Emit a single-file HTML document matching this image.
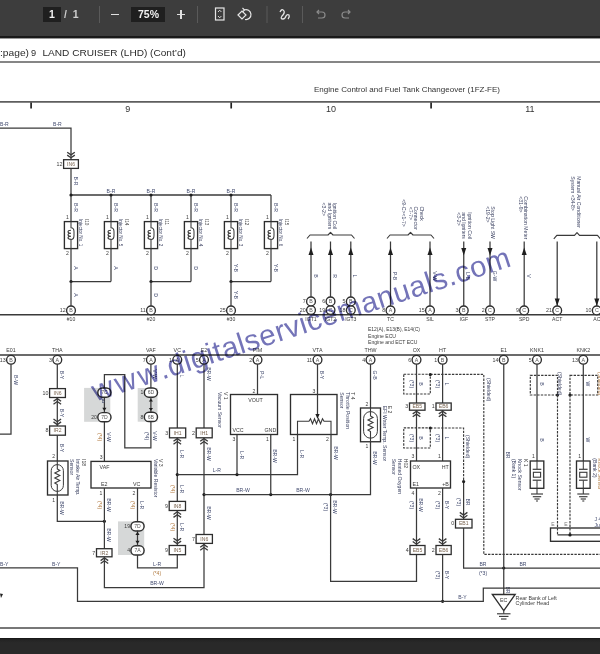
<!DOCTYPE html>
<html><head><meta charset="utf-8"><style>
html,body{margin:0;padding:0;width:600px;height:654px;overflow:hidden;background:#fff;font-family:"Liberation Sans", sans-serif;}
#tb{position:absolute;left:0;top:0;width:600px;height:36px;background:#3d3d3d;}
#tbb{position:absolute;left:0;top:36px;width:600px;height:3px;background:linear-gradient(#181818,#1a1a1a 55%,#8a8a8a 80%,#e0e0e0);}
#bot{position:absolute;left:0;top:638.3px;width:600px;height:16px;background:linear-gradient(#151515,#242424 2px,#292929 5px);}
#pg{position:absolute;left:0;top:0;}
.tbt{position:absolute;color:#f0f0f0;font-size:10.5px;line-height:15px;font-weight:bold;}
</style></head><body>
<svg id="pg" width="600" height="654" viewBox="0 0 600 654" font-family='"Liberation Sans", sans-serif'>
<rect x="0" y="0" width="600" height="654" fill="#fff"/>
<text x="0" y="56" font-size="9.2" fill="#2a2a2a" textLength="29" lengthAdjust="spacingAndGlyphs">:page)</text>
<text x="31" y="56" font-size="9.2" fill="#2a2a2a">9</text>
<text x="42.5" y="56" font-size="9.2" fill="#2a2a2a" textLength="143.5" lengthAdjust="spacingAndGlyphs">LAND CRUISER (LHD) (Cont&#8217;d)</text>
<line x1="0" y1="62" x2="600" y2="62" stroke="#5e5e5e" stroke-width="1.7"/>
<line x1="0" y1="101.9" x2="600" y2="101.9" stroke="#5e5e5e" stroke-width="1.7"/>
<line x1="31.1" y1="102.5" x2="31.1" y2="108.5" stroke="#222" stroke-width="1.7"/>
<line x1="231.2" y1="102.5" x2="231.2" y2="108.5" stroke="#222" stroke-width="1.7"/>
<line x1="431.1" y1="102.5" x2="431.1" y2="108.5" stroke="#222" stroke-width="1.7"/>
<text x="127.8" y="111.6" font-size="9.0" text-anchor="middle" fill="#333">9</text>
<text x="331.1" y="111.6" font-size="9.0" text-anchor="middle" fill="#333">10</text>
<text x="529.8" y="111.6" font-size="9.0" text-anchor="middle" fill="#333">11</text>
<text x="314" y="91.8" font-size="8.0" text-anchor="start" fill="#333" textLength="186" lengthAdjust="spacingAndGlyphs">Engine Control and Fuel Tank Changeover (1FZ-FE)</text>
<line x1="0" y1="628" x2="600" y2="628" stroke="#777" stroke-width="2"/>
<polyline points="0,128 71,128 71,160" fill="none" stroke="#3a3a3a" stroke-width="1.25"/>
<text x="0" y="126" font-size="5.1" text-anchor="start" fill="#414a6e">B-R</text>
<text x="53" y="126" font-size="5.1" text-anchor="start" fill="#414a6e">B-R</text>
<polyline points="67.2,155.10000000000002 71,157.8 74.8,155.10000000000002" fill="none" stroke="#3a3a3a" stroke-width="1.3"/>
<polyline points="67.2,152.20000000000002 71,154.9 74.8,152.20000000000002" fill="none" stroke="#3a3a3a" stroke-width="1.3"/>
<rect x="63.6" y="159.7" width="14.8" height="8.7" fill="#fff" stroke="#2e2e2e" stroke-width="1.3"/>
<text x="71.0" y="165.85000000000002" font-size="5.1" text-anchor="middle" fill="#7a6450">IN6</text>
<text x="62.4" y="165.85000000000002" font-size="5.3" text-anchor="end" fill="#3a3a3a">12</text>
<line x1="71" y1="168.4" x2="71" y2="195" stroke="#3a3a3a" stroke-width="1.25"/>
<text x="73.5" y="181" font-size="5.1" text-anchor="middle" fill="#414a6e" transform="rotate(90 73.5 181)">B-R</text>
<line x1="71" y1="195" x2="271" y2="195" stroke="#3a3a3a" stroke-width="1.5"/>
<line x1="71" y1="195" x2="71" y2="221.5" stroke="#3a3a3a" stroke-width="1.25"/>
<rect x="64.4" y="221.6" width="13.2" height="27.0" fill="#fff" stroke="#2e2e2e" stroke-width="1.35"/>
<path d="M71,221.6 V227.8 q3,0 3,4 v3.6 q0,4 -3,4 V248.6 M71,230.2 q-3,0 -3,1.5 t3,1.5 q-3,0 -3,1.5 t3,1.5 q-3,0 -3,1.5 t3,1.5" fill="none" stroke="#3a3a3a" stroke-width="1.05"/>
<text x="67.4" y="218.6" font-size="5.1" text-anchor="middle" fill="#3a3a3a">1</text>
<text x="67.4" y="255" font-size="5.1" text-anchor="middle" fill="#3a3a3a">2</text>
<text x="73.5" y="207.5" font-size="5.1" text-anchor="middle" fill="#414a6e" transform="rotate(90 73.5 207.5)">B-R</text>
<text x="85.1" y="219" font-size="4.6" text-anchor="start" fill="#3a3a3a" transform="rotate(90 85.1 219)">I10</text>
<text x="79.1" y="219" font-size="4.6" text-anchor="start" fill="#3c4262" transform="rotate(90 79.1 219)">Injector No. 1</text>
<line x1="71" y1="248.6" x2="71" y2="281.5" stroke="#3a3a3a" stroke-width="1.25"/>
<text x="73.5" y="268" font-size="5.1" text-anchor="middle" fill="#414a6e" transform="rotate(90 73.5 268)">A</text>
<line x1="111" y1="195" x2="111" y2="221.5" stroke="#3a3a3a" stroke-width="1.25"/>
<rect x="104.4" y="221.6" width="13.2" height="27.0" fill="#fff" stroke="#2e2e2e" stroke-width="1.35"/>
<path d="M111,221.6 V227.8 q3,0 3,4 v3.6 q0,4 -3,4 V248.6 M111,230.2 q-3,0 -3,1.5 t3,1.5 q-3,0 -3,1.5 t3,1.5 q-3,0 -3,1.5 t3,1.5" fill="none" stroke="#3a3a3a" stroke-width="1.05"/>
<text x="107.4" y="218.6" font-size="5.1" text-anchor="middle" fill="#3a3a3a">1</text>
<text x="107.4" y="255" font-size="5.1" text-anchor="middle" fill="#3a3a3a">2</text>
<text x="113.5" y="207.5" font-size="5.1" text-anchor="middle" fill="#414a6e" transform="rotate(90 113.5 207.5)">B-R</text>
<text x="125.1" y="219" font-size="4.6" text-anchor="start" fill="#3a3a3a" transform="rotate(90 125.1 219)">I14</text>
<text x="119.1" y="219" font-size="4.6" text-anchor="start" fill="#3c4262" transform="rotate(90 119.1 219)">Injector No. 5</text>
<line x1="111" y1="248.6" x2="111" y2="281.5" stroke="#3a3a3a" stroke-width="1.25"/>
<text x="113.5" y="268" font-size="5.1" text-anchor="middle" fill="#414a6e" transform="rotate(90 113.5 268)">A</text>
<line x1="151" y1="195" x2="151" y2="221.5" stroke="#3a3a3a" stroke-width="1.25"/>
<rect x="144.4" y="221.6" width="13.2" height="27.0" fill="#fff" stroke="#2e2e2e" stroke-width="1.35"/>
<path d="M151,221.6 V227.8 q3,0 3,4 v3.6 q0,4 -3,4 V248.6 M151,230.2 q-3,0 -3,1.5 t3,1.5 q-3,0 -3,1.5 t3,1.5 q-3,0 -3,1.5 t3,1.5" fill="none" stroke="#3a3a3a" stroke-width="1.05"/>
<text x="147.4" y="218.6" font-size="5.1" text-anchor="middle" fill="#3a3a3a">1</text>
<text x="147.4" y="255" font-size="5.1" text-anchor="middle" fill="#3a3a3a">2</text>
<text x="153.5" y="207.5" font-size="5.1" text-anchor="middle" fill="#414a6e" transform="rotate(90 153.5 207.5)">B-R</text>
<text x="165.1" y="219" font-size="4.6" text-anchor="start" fill="#3a3a3a" transform="rotate(90 165.1 219)">I11</text>
<text x="159.1" y="219" font-size="4.6" text-anchor="start" fill="#3c4262" transform="rotate(90 159.1 219)">Injector No. 2</text>
<line x1="151" y1="248.6" x2="151" y2="281.5" stroke="#3a3a3a" stroke-width="1.25"/>
<text x="153.5" y="268" font-size="5.1" text-anchor="middle" fill="#414a6e" transform="rotate(90 153.5 268)">D</text>
<line x1="191" y1="195" x2="191" y2="221.5" stroke="#3a3a3a" stroke-width="1.25"/>
<rect x="184.4" y="221.6" width="13.2" height="27.0" fill="#fff" stroke="#2e2e2e" stroke-width="1.35"/>
<path d="M191,221.6 V227.8 q3,0 3,4 v3.6 q0,4 -3,4 V248.6 M191,230.2 q-3,0 -3,1.5 t3,1.5 q-3,0 -3,1.5 t3,1.5 q-3,0 -3,1.5 t3,1.5" fill="none" stroke="#3a3a3a" stroke-width="1.05"/>
<text x="187.4" y="218.6" font-size="5.1" text-anchor="middle" fill="#3a3a3a">1</text>
<text x="187.4" y="255" font-size="5.1" text-anchor="middle" fill="#3a3a3a">2</text>
<text x="193.5" y="207.5" font-size="5.1" text-anchor="middle" fill="#414a6e" transform="rotate(90 193.5 207.5)">B-R</text>
<text x="205.1" y="219" font-size="4.6" text-anchor="start" fill="#3a3a3a" transform="rotate(90 205.1 219)">I13</text>
<text x="199.1" y="219" font-size="4.6" text-anchor="start" fill="#3c4262" transform="rotate(90 199.1 219)">Injector No. 4</text>
<line x1="191" y1="248.6" x2="191" y2="281.5" stroke="#3a3a3a" stroke-width="1.25"/>
<text x="193.5" y="268" font-size="5.1" text-anchor="middle" fill="#414a6e" transform="rotate(90 193.5 268)">D</text>
<line x1="231" y1="195" x2="231" y2="221.5" stroke="#3a3a3a" stroke-width="1.25"/>
<rect x="224.4" y="221.6" width="13.2" height="27.0" fill="#fff" stroke="#2e2e2e" stroke-width="1.35"/>
<path d="M231,221.6 V227.8 q3,0 3,4 v3.6 q0,4 -3,4 V248.6 M231,230.2 q-3,0 -3,1.5 t3,1.5 q-3,0 -3,1.5 t3,1.5 q-3,0 -3,1.5 t3,1.5" fill="none" stroke="#3a3a3a" stroke-width="1.05"/>
<text x="227.4" y="218.6" font-size="5.1" text-anchor="middle" fill="#3a3a3a">1</text>
<text x="227.4" y="255" font-size="5.1" text-anchor="middle" fill="#3a3a3a">2</text>
<text x="233.5" y="207.5" font-size="5.1" text-anchor="middle" fill="#414a6e" transform="rotate(90 233.5 207.5)">B-R</text>
<text x="245.1" y="219" font-size="4.6" text-anchor="start" fill="#3a3a3a" transform="rotate(90 245.1 219)">I12</text>
<text x="239.1" y="219" font-size="4.6" text-anchor="start" fill="#3c4262" transform="rotate(90 239.1 219)">Injector No. 3</text>
<line x1="231" y1="248.6" x2="231" y2="281.5" stroke="#3a3a3a" stroke-width="1.25"/>
<text x="233.5" y="268" font-size="5.1" text-anchor="middle" fill="#414a6e" transform="rotate(90 233.5 268)">Y-B</text>
<line x1="271" y1="195" x2="271" y2="221.5" stroke="#3a3a3a" stroke-width="1.25"/>
<rect x="264.4" y="221.6" width="13.2" height="27.0" fill="#fff" stroke="#2e2e2e" stroke-width="1.35"/>
<path d="M271,221.6 V227.8 q3,0 3,4 v3.6 q0,4 -3,4 V248.6 M271,230.2 q-3,0 -3,1.5 t3,1.5 q-3,0 -3,1.5 t3,1.5 q-3,0 -3,1.5 t3,1.5" fill="none" stroke="#3a3a3a" stroke-width="1.05"/>
<text x="267.4" y="218.6" font-size="5.1" text-anchor="middle" fill="#3a3a3a">1</text>
<text x="267.4" y="255" font-size="5.1" text-anchor="middle" fill="#3a3a3a">2</text>
<text x="273.5" y="207.5" font-size="5.1" text-anchor="middle" fill="#414a6e" transform="rotate(90 273.5 207.5)">B-R</text>
<text x="285.1" y="219" font-size="4.6" text-anchor="start" fill="#3a3a3a" transform="rotate(90 285.1 219)">I15</text>
<text x="279.1" y="219" font-size="4.6" text-anchor="start" fill="#3c4262" transform="rotate(90 279.1 219)">Injector No. 6</text>
<line x1="271" y1="248.6" x2="271" y2="281.5" stroke="#3a3a3a" stroke-width="1.25"/>
<text x="273.5" y="268" font-size="5.1" text-anchor="middle" fill="#414a6e" transform="rotate(90 273.5 268)">Y-B</text>
<circle cx="71" cy="195" r="1.6" fill="#1e1e1e"/>
<circle cx="111" cy="195" r="1.6" fill="#1e1e1e"/>
<circle cx="151" cy="195" r="1.6" fill="#1e1e1e"/>
<circle cx="191" cy="195" r="1.6" fill="#1e1e1e"/>
<circle cx="231" cy="195" r="1.6" fill="#1e1e1e"/>
<text x="111" y="192.6" font-size="5.1" text-anchor="middle" fill="#414a6e">B-R</text>
<text x="151" y="192.6" font-size="5.1" text-anchor="middle" fill="#414a6e">B-R</text>
<text x="191" y="192.6" font-size="5.1" text-anchor="middle" fill="#414a6e">B-R</text>
<text x="231" y="192.6" font-size="5.1" text-anchor="middle" fill="#414a6e">B-R</text>
<line x1="71" y1="281.5" x2="111" y2="281.5" stroke="#3a3a3a" stroke-width="1.25"/>
<circle cx="71" cy="281.5" r="1.6" fill="#1e1e1e"/>
<line x1="151" y1="281.5" x2="191" y2="281.5" stroke="#3a3a3a" stroke-width="1.25"/>
<circle cx="151" cy="281.5" r="1.6" fill="#1e1e1e"/>
<line x1="231" y1="281.5" x2="271" y2="281.5" stroke="#3a3a3a" stroke-width="1.25"/>
<circle cx="231" cy="281.5" r="1.6" fill="#1e1e1e"/>
<line x1="71" y1="281.5" x2="71" y2="306" stroke="#3a3a3a" stroke-width="1.25"/>
<text x="73.5" y="295" font-size="5.1" text-anchor="middle" fill="#414a6e" transform="rotate(90 73.5 295)">A</text>
<line x1="151" y1="281.5" x2="151" y2="306" stroke="#3a3a3a" stroke-width="1.25"/>
<text x="153.5" y="295" font-size="5.1" text-anchor="middle" fill="#414a6e" transform="rotate(90 153.5 295)">D</text>
<line x1="231" y1="281.5" x2="231" y2="306" stroke="#3a3a3a" stroke-width="1.25"/>
<text x="233.5" y="295" font-size="5.1" text-anchor="middle" fill="#414a6e" transform="rotate(90 233.5 295)">Y-B</text>
<line x1="0" y1="314.8" x2="600" y2="314.8" stroke="#3a3a3a" stroke-width="1.5"/>
<circle cx="71" cy="310.4" r="4.4" fill="#fff" stroke="#2e2e2e" stroke-width="1.35"/>
<text x="71" y="312.29999999999995" font-size="5.3" text-anchor="middle" fill="#555">B</text>
<text x="65.69999999999999" y="312.29999999999995" font-size="5.3" text-anchor="end" fill="#3a3a3a">12</text>
<text x="71" y="320.6" font-size="5.1" text-anchor="middle" fill="#3a3a3a">#10</text>
<circle cx="151" cy="310.4" r="4.4" fill="#fff" stroke="#2e2e2e" stroke-width="1.35"/>
<text x="151" y="312.29999999999995" font-size="5.3" text-anchor="middle" fill="#555">B</text>
<text x="145.7" y="312.29999999999995" font-size="5.3" text-anchor="end" fill="#3a3a3a">11</text>
<text x="151" y="320.6" font-size="5.1" text-anchor="middle" fill="#3a3a3a">#20</text>
<circle cx="231" cy="310.4" r="4.4" fill="#fff" stroke="#2e2e2e" stroke-width="1.35"/>
<text x="231" y="312.29999999999995" font-size="5.3" text-anchor="middle" fill="#555">B</text>
<text x="225.7" y="312.29999999999995" font-size="5.3" text-anchor="end" fill="#3a3a3a">25</text>
<text x="231" y="320.6" font-size="5.1" text-anchor="middle" fill="#3a3a3a">#30</text>
<path d="M307,238.5 L310,235 L328.0,235 L330.5,232.3 L333.0,235 L351.5,235 L354.5,238.5" fill="none" stroke="#3a3a3a" stroke-width="1.15" stroke-linejoin="round"/>
<text x="333.4" y="202.6" font-size="5.1" text-anchor="start" fill="#3c4262" transform="rotate(90 333.4 202.6)">Ignition Coil</text>
<text x="327.8" y="202.6" font-size="5.1" text-anchor="start" fill="#3c4262" transform="rotate(90 327.8 202.6)">and Igniters</text>
<text x="322.3" y="202.6" font-size="5.1" text-anchor="start" fill="#3c4262" transform="rotate(90 322.3 202.6)">&lt;3-2&gt;</text>
<line x1="311" y1="241.5" x2="311" y2="297" stroke="#3a3a3a" stroke-width="1.25"/>
<polygon points="311,247.5 308.5,255.0 313.5,255.0" fill="#1e1e1e"/>
<text x="313.5" y="276" font-size="5.1" text-anchor="middle" fill="#414a6e" transform="rotate(90 313.5 276)">B</text>
<circle cx="311" cy="310.1" r="4.4" fill="#fff" stroke="#2e2e2e" stroke-width="1.35"/>
<text x="311" y="312.0" font-size="5.3" text-anchor="middle" fill="#555">B</text>
<text x="305.70000000000005" y="312.0" font-size="5.3" text-anchor="end" fill="#3a3a3a">20</text>
<circle cx="311" cy="301.4" r="4.4" fill="#fff" stroke="#2e2e2e" stroke-width="1.35"/>
<text x="311" y="303.29999999999995" font-size="5.3" text-anchor="middle" fill="#555">B</text>
<text x="305.70000000000005" y="303.29999999999995" font-size="5.3" text-anchor="end" fill="#3a3a3a">7</text>
<text x="311" y="320.6" font-size="5.1" text-anchor="middle" fill="#3a3a3a">IGT1</text>
<line x1="330.5" y1="241.5" x2="330.5" y2="297" stroke="#3a3a3a" stroke-width="1.25"/>
<polygon points="330.5,247.5 328.0,255.0 333.0,255.0" fill="#1e1e1e"/>
<text x="333.0" y="276" font-size="5.1" text-anchor="middle" fill="#414a6e" transform="rotate(90 333.0 276)">R</text>
<circle cx="330.5" cy="310.1" r="4.4" fill="#fff" stroke="#2e2e2e" stroke-width="1.35"/>
<text x="330.5" y="312.0" font-size="5.3" text-anchor="middle" fill="#555">C</text>
<text x="325.20000000000005" y="312.0" font-size="5.3" text-anchor="end" fill="#3a3a3a">19</text>
<circle cx="330.5" cy="301.4" r="4.4" fill="#fff" stroke="#2e2e2e" stroke-width="1.35"/>
<text x="330.5" y="303.29999999999995" font-size="5.3" text-anchor="middle" fill="#555">B</text>
<text x="325.20000000000005" y="303.29999999999995" font-size="5.3" text-anchor="end" fill="#3a3a3a">6</text>
<text x="330.5" y="320.6" font-size="5.1" text-anchor="middle" fill="#3a3a3a">IGT2</text>
<line x1="350.8" y1="241.5" x2="350.8" y2="297" stroke="#3a3a3a" stroke-width="1.25"/>
<polygon points="350.8,247.5 348.3,255.0 353.3,255.0" fill="#1e1e1e"/>
<text x="353.3" y="276" font-size="5.1" text-anchor="middle" fill="#414a6e" transform="rotate(90 353.3 276)">L</text>
<circle cx="350.8" cy="310.1" r="4.4" fill="#fff" stroke="#2e2e2e" stroke-width="1.35"/>
<text x="350.8" y="312.0" font-size="5.3" text-anchor="middle" fill="#555">C</text>
<text x="345.50000000000006" y="312.0" font-size="5.3" text-anchor="end" fill="#3a3a3a">18</text>
<circle cx="350.8" cy="301.4" r="4.4" fill="#fff" stroke="#2e2e2e" stroke-width="1.35"/>
<text x="350.8" y="303.29999999999995" font-size="5.3" text-anchor="middle" fill="#555">B</text>
<text x="345.50000000000006" y="303.29999999999995" font-size="5.3" text-anchor="end" fill="#3a3a3a">5</text>
<text x="350.8" y="320.6" font-size="5.1" text-anchor="middle" fill="#3a3a3a">IGT3</text>
<path d="M387,238.5 L390,235 L408.0,235 L410.5,232.3 L413.0,235 L431,235 L434,238.5" fill="none" stroke="#3a3a3a" stroke-width="1.15" stroke-linejoin="round"/>
<text x="420.2" y="206.4" font-size="5.1" text-anchor="start" fill="#3c4262" transform="rotate(90 420.2 206.4)">Check</text>
<text x="414.4" y="206.4" font-size="5.1" text-anchor="start" fill="#3c4262" transform="rotate(90 414.4 206.4)">Connector</text>
<text x="409.2" y="206.8" font-size="5.1" text-anchor="start" fill="#3c4262" transform="rotate(90 409.2 206.8)">&lt;7-7&gt;</text>
<text x="402.2" y="199.3" font-size="5.1" text-anchor="start" fill="#3c4262" transform="rotate(90 402.2 199.3)">&lt;9-C&gt;&lt;1-7&gt;</text>
<line x1="390.5" y1="241.5" x2="390.5" y2="306" stroke="#3a3a3a" stroke-width="1.25"/>
<polygon points="390.5,247.5 388.0,255.0 393.0,255.0" fill="#1e1e1e"/>
<text x="393.0" y="276" font-size="5.1" text-anchor="middle" fill="#414a6e" transform="rotate(90 393.0 276)">P-B</text>
<circle cx="390.5" cy="310.4" r="4.4" fill="#fff" stroke="#2e2e2e" stroke-width="1.35"/>
<text x="390.5" y="312.29999999999995" font-size="5.3" text-anchor="middle" fill="#555">A</text>
<text x="385.20000000000005" y="312.29999999999995" font-size="5.3" text-anchor="end" fill="#3a3a3a">8</text>
<text x="390.5" y="320.6" font-size="5.1" text-anchor="middle" fill="#3a3a3a">TC</text>
<line x1="430" y1="241.5" x2="430" y2="306" stroke="#3a3a3a" stroke-width="1.25"/>
<polygon points="430,247.5 427.5,255.0 432.5,255.0" fill="#1e1e1e"/>
<text x="432.5" y="276" font-size="5.1" text-anchor="middle" fill="#414a6e" transform="rotate(90 432.5 276)">V-W</text>
<circle cx="430" cy="310.4" r="4.4" fill="#fff" stroke="#2e2e2e" stroke-width="1.35"/>
<text x="430" y="312.29999999999995" font-size="5.3" text-anchor="middle" fill="#555">A</text>
<text x="424.70000000000005" y="312.29999999999995" font-size="5.3" text-anchor="end" fill="#3a3a3a">15</text>
<text x="430" y="320.6" font-size="5.1" text-anchor="middle" fill="#3a3a3a">SIL</text>
<text x="467.6" y="212.3" font-size="5.1" text-anchor="start" fill="#3c4262" transform="rotate(90 467.6 212.3)">Ignition Coil</text>
<text x="462" y="212.3" font-size="5.1" text-anchor="start" fill="#3c4262" transform="rotate(90 462 212.3)">and Igniters</text>
<text x="456.6" y="212.3" font-size="5.1" text-anchor="start" fill="#3c4262" transform="rotate(90 456.6 212.3)">&lt;3-2&gt;</text>
<text x="490.8" y="206.3" font-size="5.1" text-anchor="start" fill="#3c4262" transform="rotate(90 490.8 206.3)">Stop Light SW</text>
<text x="485.6" y="206.3" font-size="5.1" text-anchor="start" fill="#3c4262" transform="rotate(90 485.6 206.3)">&lt;19-2&gt;</text>
<text x="524.4" y="196.3" font-size="5.1" text-anchor="start" fill="#3c4262" transform="rotate(90 524.4 196.3)">Combination Meter</text>
<text x="518.8" y="196.3" font-size="5.1" text-anchor="start" fill="#3c4262" transform="rotate(90 518.8 196.3)">&lt;31-9&gt;</text>
<text x="577.3" y="176.3" font-size="5.1" text-anchor="start" fill="#3c4262" transform="rotate(90 577.3 176.3)">Manual Air Conditioner</text>
<text x="571.2" y="176.3" font-size="5.1" text-anchor="start" fill="#3c4262" transform="rotate(90 571.2 176.3)">System &lt;34-8&gt;</text>
<path d="M553.8,238.9 L556.8,235.4 L574.5,235.4 L577,232.70000000000002 L579.5,235.4 L597.5,235.4 L600.5,238.9" fill="none" stroke="#3a3a3a" stroke-width="1.15" stroke-linejoin="round"/>
<line x1="463.75" y1="241.5" x2="463.75" y2="306" stroke="#3a3a3a" stroke-width="1.25"/>
<polygon points="463.75,255.5 461.25,248.0 466.25,248.0" fill="#1e1e1e"/>
<text x="466.25" y="276" font-size="5.1" text-anchor="middle" fill="#414a6e" transform="rotate(90 466.25 276)">L-B</text>
<circle cx="463.75" cy="310.4" r="4.4" fill="#fff" stroke="#2e2e2e" stroke-width="1.35"/>
<text x="463.75" y="312.29999999999995" font-size="5.3" text-anchor="middle" fill="#555">B</text>
<text x="458.45000000000005" y="312.29999999999995" font-size="5.3" text-anchor="end" fill="#3a3a3a">3</text>
<text x="463.75" y="320.6" font-size="5.1" text-anchor="middle" fill="#3a3a3a">IGF</text>
<line x1="490" y1="241.5" x2="490" y2="306" stroke="#3a3a3a" stroke-width="1.25"/>
<polygon points="490,255.5 487.5,248.0 492.5,248.0" fill="#1e1e1e"/>
<text x="492.5" y="276" font-size="5.1" text-anchor="middle" fill="#414a6e" transform="rotate(90 492.5 276)">G-W</text>
<circle cx="490" cy="310.4" r="4.4" fill="#fff" stroke="#2e2e2e" stroke-width="1.35"/>
<text x="490" y="312.29999999999995" font-size="5.3" text-anchor="middle" fill="#555">C</text>
<text x="484.70000000000005" y="312.29999999999995" font-size="5.3" text-anchor="end" fill="#3a3a3a">2</text>
<text x="490" y="320.6" font-size="5.1" text-anchor="middle" fill="#3a3a3a">STP</text>
<line x1="524.2" y1="241.5" x2="524.2" y2="306" stroke="#3a3a3a" stroke-width="1.25"/>
<polygon points="524.2,247.5 521.7,255.0 526.7,255.0" fill="#1e1e1e"/>
<text x="526.7" y="276" font-size="5.1" text-anchor="middle" fill="#414a6e" transform="rotate(90 526.7 276)">V</text>
<circle cx="524.2" cy="310.4" r="4.4" fill="#fff" stroke="#2e2e2e" stroke-width="1.35"/>
<text x="524.2" y="312.29999999999995" font-size="5.3" text-anchor="middle" fill="#555">C</text>
<text x="518.9000000000001" y="312.29999999999995" font-size="5.3" text-anchor="end" fill="#3a3a3a">9</text>
<text x="524.2" y="320.6" font-size="5.1" text-anchor="middle" fill="#3a3a3a">SPD</text>
<line x1="557.2" y1="241.5" x2="557.2" y2="306" stroke="#3a3a3a" stroke-width="1.25"/>
<polygon points="557.2,306 554.7,298.5 559.7,298.5" fill="#1e1e1e"/>
<circle cx="557.2" cy="310.4" r="4.4" fill="#fff" stroke="#2e2e2e" stroke-width="1.35"/>
<text x="557.2" y="312.29999999999995" font-size="5.3" text-anchor="middle" fill="#555">C</text>
<text x="551.9000000000001" y="312.29999999999995" font-size="5.3" text-anchor="end" fill="#3a3a3a">21</text>
<text x="557.2" y="320.6" font-size="5.1" text-anchor="middle" fill="#3a3a3a">ACT</text>
<line x1="596.8" y1="241.5" x2="596.8" y2="306" stroke="#3a3a3a" stroke-width="1.25"/>
<polygon points="596.8,306 594.3,298.5 599.3,298.5" fill="#1e1e1e"/>
<circle cx="596.8" cy="310.4" r="4.4" fill="#fff" stroke="#2e2e2e" stroke-width="1.35"/>
<text x="596.8" y="312.29999999999995" font-size="5.3" text-anchor="middle" fill="#555">C</text>
<text x="591.5" y="312.29999999999995" font-size="5.3" text-anchor="end" fill="#3a3a3a">10</text>
<text x="596.8" y="320.6" font-size="5.1" text-anchor="middle" fill="#3a3a3a">AC</text>
<text x="368" y="331.4" font-size="5.1" text-anchor="start" fill="#3a3a3a" textLength="52" lengthAdjust="spacingAndGlyphs">E12(A), E13(B), E14(C)</text>
<text x="368" y="337.6" font-size="5.1" text-anchor="start" fill="#3a3a3a">Engine ECU</text>
<text x="368" y="343.8" font-size="5.1" text-anchor="start" fill="#3a3a3a">Engine and ECT ECU</text>
<line x1="0" y1="355" x2="600" y2="355" stroke="#3a3a3a" stroke-width="1.5"/>
<rect x="84.1" y="387.9" width="26.2" height="33.9" fill="#d6d8d8"/>
<rect x="137.7" y="388" width="19.8" height="33.7" fill="#d6d8d8"/>
<rect x="118" y="521.4" width="26.2" height="33.6" fill="#d6d8d8"/>
<polyline points="11,364 11,434 0,434" fill="none" stroke="#3a3a3a" stroke-width="1.25"/>
<text x="13.5" y="380" font-size="5.1" text-anchor="middle" fill="#414a6e" transform="rotate(90 13.5 380)">B-W</text>
<line x1="57.3" y1="364" x2="57.3" y2="388.6" stroke="#3a3a3a" stroke-width="1.25"/>
<text x="59.8" y="375" font-size="5.1" text-anchor="middle" fill="#414a6e" transform="rotate(90 59.8 375)">B-Y</text>
<rect x="49.6" y="388.6" width="15.8" height="8.9" fill="#fff" stroke="#2e2e2e" stroke-width="1.3"/>
<text x="57.5" y="394.85" font-size="5.1" text-anchor="middle" fill="#7a6450">IN6</text>
<text x="48.4" y="394.85" font-size="5.3" text-anchor="end" fill="#3a3a3a">10</text>
<polyline points="53.5,401.3 57.3,398.6 61.099999999999994,401.3" fill="none" stroke="#3a3a3a" stroke-width="1.3"/>
<polyline points="53.5,404.2 57.3,401.5 61.099999999999994,404.2" fill="none" stroke="#3a3a3a" stroke-width="1.3"/>
<line x1="57.3" y1="397.5" x2="57.3" y2="426" stroke="#3a3a3a" stroke-width="1.25"/>
<text x="59.8" y="413" font-size="5.1" text-anchor="middle" fill="#414a6e" transform="rotate(90 59.8 413)">B-Y</text>
<polyline points="53.5,421.90000000000003 57.3,424.6 61.099999999999994,421.90000000000003" fill="none" stroke="#3a3a3a" stroke-width="1.3"/>
<polyline points="53.5,419.00000000000006 57.3,421.70000000000005 61.099999999999994,419.00000000000006" fill="none" stroke="#3a3a3a" stroke-width="1.3"/>
<rect x="49.6" y="426" width="15.8" height="9.2" fill="#fff" stroke="#2e2e2e" stroke-width="1.3"/>
<text x="57.5" y="432.40000000000003" font-size="5.1" text-anchor="middle" fill="#7a6450">IR2</text>
<text x="48.4" y="432.40000000000003" font-size="5.3" text-anchor="end" fill="#3a3a3a">8</text>
<line x1="57.3" y1="435.2" x2="57.3" y2="461" stroke="#3a3a3a" stroke-width="1.25"/>
<text x="59.8" y="448" font-size="5.1" text-anchor="middle" fill="#414a6e" transform="rotate(90 59.8 448)">B-Y</text>
<text x="53.6" y="458.2" font-size="5.1" text-anchor="middle" fill="#3a3a3a">2</text>
<rect x="47.5" y="461" width="20.5" height="34" fill="#fff" stroke="#2e2e2e" stroke-width="1.35"/>
<rect x="51.2" y="464.6" width="12.2" height="26.8" rx="6.1" fill="none" stroke="#3a3a3a" stroke-width="1"/>
<polyline points="57.3,461 57.3,469 59.8,470.5 54.8,473 59.8,475.5 54.8,478 59.8,480.5 54.8,483 57.3,484.5 57.3,495" fill="none" stroke="#3a3a3a" stroke-width="1.1"/>
<text x="81.5" y="459" font-size="5.1" text-anchor="start" fill="#3a3a3a" transform="rotate(90 81.5 459)">I18</text>
<text x="75.8" y="459" font-size="5.1" text-anchor="start" fill="#3c4262" transform="rotate(90 75.8 459)">Intake Air Temp.</text>
<text x="70.4" y="459" font-size="5.1" text-anchor="start" fill="#3c4262" transform="rotate(90 70.4 459)">Sensor</text>
<text x="53.6" y="501.5" font-size="5.1" text-anchor="middle" fill="#3a3a3a">1</text>
<polyline points="57.3,495 57.3,521.3 104.4,521.3" fill="none" stroke="#3a3a3a" stroke-width="1.25"/>
<text x="59.8" y="508" font-size="5.1" text-anchor="middle" fill="#414a6e" transform="rotate(90 59.8 508)">BR-W</text>
<circle cx="104.4" cy="521.3" r="1.6" fill="#1e1e1e"/>
<line x1="150.9" y1="364" x2="150.9" y2="388" stroke="#3a3a3a" stroke-width="1.25"/>
<text x="153.4" y="374" font-size="5.1" text-anchor="middle" fill="#414a6e" transform="rotate(90 153.4 374)">V-W</text>
<polyline points="150.9,421.5 150.9,447.8 124.8,447.8 124.8,374.6 104.4,374.6 104.4,461" fill="none" stroke="#3a3a3a" stroke-width="1.25"/>
<rect x="144.3" y="388.0" width="13.2" height="9.2" rx="4.6" fill="#fff" stroke="#2e2e2e" stroke-width="1.45"/>
<text x="150.9" y="394.40000000000003" font-size="5.1" text-anchor="middle" fill="#555">6D</text>
<text x="143.4" y="394.40000000000003" font-size="5.1" text-anchor="end" fill="#3a3a3a">1</text>
<rect x="144.3" y="412.29999999999995" width="13.2" height="9.2" rx="4.6" fill="#fff" stroke="#2e2e2e" stroke-width="1.45"/>
<text x="150.9" y="418.7" font-size="5.1" text-anchor="middle" fill="#555">6B</text>
<text x="143.4" y="418.7" font-size="5.1" text-anchor="end" fill="#3a3a3a">8</text>
<line x1="150.9" y1="397" x2="150.9" y2="412" stroke="#3a3a3a" stroke-width="1.25"/>
<polygon points="150.9,398.8 148.8,401.6 153.0,401.6" fill="#1e1e1e"/>
<polygon points="150.9,410.8 148.8,408.0 153.0,408.0" fill="#1e1e1e"/>
<rect x="97.80000000000001" y="388.0" width="13.2" height="9.2" rx="4.6" fill="#fff" stroke="#2e2e2e" stroke-width="1.45"/>
<text x="104.4" y="394.40000000000003" font-size="5.1" text-anchor="middle" fill="#555">7C</text>
<rect x="97.80000000000001" y="412.59999999999997" width="13.2" height="9.2" rx="4.6" fill="#fff" stroke="#2e2e2e" stroke-width="1.45"/>
<text x="104.4" y="419.0" font-size="5.1" text-anchor="middle" fill="#555">7D</text>
<text x="96.9" y="419.0" font-size="5.1" text-anchor="end" fill="#3a3a3a">20</text>
<polygon points="104.4,411 102.30000000000001,407.8 106.5,407.8" fill="#1e1e1e"/>
<text x="103.4" y="403" font-size="4.6" text-anchor="middle" fill="#414a6e">B</text>
<text x="106.9" y="437" font-size="5.1" text-anchor="middle" fill="#414a6e" transform="rotate(90 106.9 437)">V-W</text>
<text x="98.1" y="437" font-size="5.1" text-anchor="middle" fill="#b07a40" transform="rotate(90 98.1 437)">(*4)</text>
<text x="153.4" y="436" font-size="5.1" text-anchor="middle" fill="#414a6e" transform="rotate(90 153.4 436)">V-W</text>
<text x="144.6" y="436" font-size="5.1" text-anchor="middle" fill="#414a6e" transform="rotate(90 144.6 436)">(*4)</text>
<text x="101.2" y="458.5" font-size="5.1" text-anchor="middle" fill="#3a3a3a">3</text>
<rect x="91" y="461.4" width="60" height="26.6" fill="#fff" stroke="#2e2e2e" stroke-width="1.35"/>
<text x="99.5" y="468.6" font-size="5.3" text-anchor="start" fill="#3a3a3a">VAF</text>
<text x="101" y="486.2" font-size="5.3" text-anchor="start" fill="#3a3a3a">E2</text>
<text x="133" y="486.2" font-size="5.3" text-anchor="start" fill="#3a3a3a">VC</text>
<text x="159" y="459" font-size="5.1" text-anchor="start" fill="#3a3a3a" transform="rotate(90 159 459)">V 3</text>
<text x="153.8" y="459" font-size="5.1" text-anchor="start" fill="#3c4262" transform="rotate(90 153.8 459)">Variable Resistor</text>
<line x1="104.4" y1="488" x2="104.4" y2="548.7" stroke="#3a3a3a" stroke-width="1.25"/>
<text x="100.8" y="494.5" font-size="5.1" text-anchor="middle" fill="#3a3a3a">1</text>
<text x="106.9" y="505" font-size="5.1" text-anchor="middle" fill="#414a6e" transform="rotate(90 106.9 505)">BR-W</text>
<text x="98.1" y="505" font-size="5.1" text-anchor="middle" fill="#b07a40" transform="rotate(90 98.1 505)">(*4)</text>
<text x="106.9" y="535" font-size="5.1" text-anchor="middle" fill="#414a6e" transform="rotate(90 106.9 535)">BR-W</text>
<rect x="96.5" y="548.7" width="15.5" height="8.1" fill="#fff" stroke="#2e2e2e" stroke-width="1.3"/>
<text x="104.25" y="554.55" font-size="5.1" text-anchor="middle" fill="#7a6450">IR2</text>
<text x="95.3" y="554.55" font-size="5.3" text-anchor="end" fill="#3a3a3a">7</text>
<polyline points="100.60000000000001,560.6 104.4,557.9 108.2,560.6" fill="none" stroke="#3a3a3a" stroke-width="1.3"/>
<polyline points="100.60000000000001,563.5 104.4,560.8 108.2,563.5" fill="none" stroke="#3a3a3a" stroke-width="1.3"/>
<polyline points="104.4,556.8 104.4,587.5 204,587.5 204,543.4" fill="none" stroke="#3a3a3a" stroke-width="1.25"/>
<text x="157" y="585.2" font-size="5.1" text-anchor="middle" fill="#414a6e">BR-W</text>
<line x1="137.5" y1="488" x2="137.5" y2="522" stroke="#3a3a3a" stroke-width="1.25"/>
<text x="134" y="494.5" font-size="5.1" text-anchor="middle" fill="#3a3a3a">2</text>
<text x="140.0" y="505" font-size="5.1" text-anchor="middle" fill="#414a6e" transform="rotate(90 140.0 505)">L-R</text>
<text x="131.2" y="505" font-size="5.1" text-anchor="middle" fill="#b07a40" transform="rotate(90 131.2 505)">(*4)</text>
<rect x="130.9" y="521.6999999999999" width="13.2" height="9.2" rx="4.6" fill="#fff" stroke="#2e2e2e" stroke-width="1.45"/>
<text x="137.5" y="528.0999999999999" font-size="5.1" text-anchor="middle" fill="#555">7D</text>
<text x="130.0" y="528.0999999999999" font-size="5.1" text-anchor="end" fill="#3a3a3a">19</text>
<rect x="130.9" y="545.8" width="13.2" height="9.2" rx="4.6" fill="#fff" stroke="#2e2e2e" stroke-width="1.45"/>
<text x="137.5" y="552.1999999999999" font-size="5.1" text-anchor="middle" fill="#555">7A</text>
<text x="130.0" y="552.1999999999999" font-size="5.1" text-anchor="end" fill="#3a3a3a">4</text>
<line x1="137.5" y1="530.5" x2="137.5" y2="546" stroke="#3a3a3a" stroke-width="1.25"/>
<polygon points="137.5,531.8 135.4,535.0 139.6,535.0" fill="#1e1e1e"/>
<polygon points="137.5,544 135.4,540.8 139.6,540.8" fill="#1e1e1e"/>
<polyline points="137.5,555 137.5,567.8 177.3,567.8 177.3,554.7" fill="none" stroke="#3a3a3a" stroke-width="1.25"/>
<text x="157" y="565.5" font-size="5.1" text-anchor="middle" fill="#414a6e">L-R</text>
<text x="157" y="575.3" font-size="5.1" text-anchor="middle" fill="#b07a40">(*4)</text>
<line x1="177.3" y1="364" x2="177.3" y2="428" stroke="#3a3a3a" stroke-width="1.25"/>
<text x="179.8" y="376" font-size="4.6" text-anchor="middle" fill="#414a6e" transform="rotate(90 179.8 376)">L</text>
<rect x="169.5" y="428" width="16.2" height="9.8" fill="#fff" stroke="#2e2e2e" stroke-width="1.3"/>
<text x="177.6" y="434.7" font-size="5.1" text-anchor="middle" fill="#7a6450">IH1</text>
<text x="168.3" y="434.7" font-size="5.3" text-anchor="end" fill="#3a3a3a">3</text>
<polyline points="173.5,441.3 177.3,438.6 181.10000000000002,441.3" fill="none" stroke="#3a3a3a" stroke-width="1.3"/>
<polyline points="173.5,444.2 177.3,441.5 181.10000000000002,444.2" fill="none" stroke="#3a3a3a" stroke-width="1.3"/>
<line x1="177.3" y1="437.8" x2="177.3" y2="501.4" stroke="#3a3a3a" stroke-width="1.25"/>
<text x="179.8" y="454" font-size="5.1" text-anchor="middle" fill="#414a6e" transform="rotate(90 179.8 454)">L-R</text>
<circle cx="177.3" cy="474.6" r="1.6" fill="#1e1e1e"/>
<text x="179.8" y="489" font-size="5.1" text-anchor="middle" fill="#414a6e" transform="rotate(90 179.8 489)">L-R</text>
<text x="171.0" y="489" font-size="5.1" text-anchor="middle" fill="#b07a40" transform="rotate(90 171.0 489)">(*4)</text>
<rect x="169.2" y="501.4" width="16.3" height="9.1" fill="#fff" stroke="#2e2e2e" stroke-width="1.3"/>
<text x="177.35" y="507.75" font-size="5.1" text-anchor="middle" fill="#7a6450">IN8</text>
<text x="168.0" y="507.75" font-size="5.3" text-anchor="end" fill="#3a3a3a">9</text>
<polyline points="173.5,514.5 177.3,511.8 181.10000000000002,514.5" fill="none" stroke="#3a3a3a" stroke-width="1.3"/>
<polyline points="173.5,517.4000000000001 177.3,514.7 181.10000000000002,517.4000000000001" fill="none" stroke="#3a3a3a" stroke-width="1.3"/>
<line x1="177.3" y1="510.5" x2="177.3" y2="545.5" stroke="#3a3a3a" stroke-width="1.25"/>
<text x="179.8" y="527" font-size="5.1" text-anchor="middle" fill="#414a6e" transform="rotate(90 179.8 527)">L-R</text>
<text x="171.0" y="527" font-size="5.1" text-anchor="middle" fill="#b07a40" transform="rotate(90 171.0 527)">(*4)</text>
<polyline points="173.5,541.0999999999999 177.3,543.8 181.10000000000002,541.0999999999999" fill="none" stroke="#3a3a3a" stroke-width="1.3"/>
<polyline points="173.5,538.1999999999999 177.3,540.9 181.10000000000002,538.1999999999999" fill="none" stroke="#3a3a3a" stroke-width="1.3"/>
<rect x="169.2" y="545.5" width="16.3" height="9.2" fill="#fff" stroke="#2e2e2e" stroke-width="1.3"/>
<text x="177.35" y="551.9" font-size="5.1" text-anchor="middle" fill="#7a6450">IN5</text>
<text x="168.0" y="551.9" font-size="5.3" text-anchor="end" fill="#3a3a3a">9</text>
<line x1="204" y1="364" x2="204" y2="428" stroke="#3a3a3a" stroke-width="1.25"/>
<text x="206.5" y="374" font-size="5.1" text-anchor="middle" fill="#414a6e" transform="rotate(90 206.5 374)">BR-W</text>
<rect x="196.2" y="428" width="16.0" height="9.8" fill="#fff" stroke="#2e2e2e" stroke-width="1.3"/>
<text x="204.2" y="434.7" font-size="5.1" text-anchor="middle" fill="#7a6450">IH1</text>
<text x="195.0" y="434.7" font-size="5.3" text-anchor="end" fill="#3a3a3a">2</text>
<polyline points="200.2,441.3 204,438.6 207.8,441.3" fill="none" stroke="#3a3a3a" stroke-width="1.3"/>
<polyline points="200.2,444.2 204,441.5 207.8,444.2" fill="none" stroke="#3a3a3a" stroke-width="1.3"/>
<line x1="204" y1="437.8" x2="204" y2="534.5" stroke="#3a3a3a" stroke-width="1.25"/>
<text x="206.5" y="454" font-size="5.1" text-anchor="middle" fill="#414a6e" transform="rotate(90 206.5 454)">BR-W</text>
<circle cx="204" cy="494.6" r="1.6" fill="#1e1e1e"/>
<rect x="196.1" y="534.5" width="16.3" height="8.9" fill="#fff" stroke="#2e2e2e" stroke-width="1.3"/>
<text x="204.25" y="540.75" font-size="5.1" text-anchor="middle" fill="#7a6450">IN6</text>
<text x="194.9" y="540.75" font-size="5.3" text-anchor="end" fill="#3a3a3a">7</text>
<polyline points="200.2,547.3000000000001 204,544.6 207.8,547.3000000000001" fill="none" stroke="#3a3a3a" stroke-width="1.3"/>
<polyline points="200.2,550.2 204,547.5 207.8,550.2" fill="none" stroke="#3a3a3a" stroke-width="1.3"/>
<text x="206.5" y="513" font-size="5.1" text-anchor="middle" fill="#414a6e" transform="rotate(90 206.5 513)">BR-W</text>
<polyline points="177.3,474.6 297.5,474.6 297.5,434.5" fill="none" stroke="#3a3a3a" stroke-width="1.25"/>
<text x="216.8" y="472.3" font-size="5.1" text-anchor="middle" fill="#414a6e">L-R</text>
<circle cx="237" cy="474.6" r="1.6" fill="#1e1e1e"/>
<polyline points="204,494.6 370.5,494.6 370.5,441.75" fill="none" stroke="#3a3a3a" stroke-width="1.25"/>
<text x="243" y="492.3" font-size="5.1" text-anchor="middle" fill="#414a6e">BR-W</text>
<text x="303" y="492.3" font-size="5.1" text-anchor="middle" fill="#414a6e">BR-W</text>
<circle cx="270.75" cy="494.6" r="1.6" fill="#1e1e1e"/>
<circle cx="330.6" cy="494.6" r="1.6" fill="#1e1e1e"/>
<line x1="257.5" y1="364" x2="257.5" y2="394.5" stroke="#3a3a3a" stroke-width="1.25"/>
<text x="260.0" y="375" font-size="5.1" text-anchor="middle" fill="#414a6e" transform="rotate(90 260.0 375)">P-L</text>
<text x="254" y="392.5" font-size="5.1" text-anchor="middle" fill="#3a3a3a">2</text>
<rect x="230.5" y="394.5" width="47.0" height="40.0" fill="#fff" stroke="#2e2e2e" stroke-width="1.35"/>
<text x="255.5" y="401.8" font-size="5.3" text-anchor="middle" fill="#3a3a3a">VOUT</text>
<text x="232.5" y="432.2" font-size="5.3" text-anchor="start" fill="#3a3a3a">VCC</text>
<text x="264.5" y="432.2" font-size="5.3" text-anchor="start" fill="#3a3a3a">GND</text>
<text x="224.2" y="392" font-size="5.1" text-anchor="start" fill="#3a3a3a" transform="rotate(90 224.2 392)">V 1</text>
<text x="218.4" y="392" font-size="5.1" text-anchor="start" fill="#3c4262" transform="rotate(90 218.4 392)">Vacuum Sensor</text>
<line x1="237" y1="434.5" x2="237" y2="474.6" stroke="#3a3a3a" stroke-width="1.25"/>
<line x1="270.75" y1="434.5" x2="270.75" y2="494.6" stroke="#3a3a3a" stroke-width="1.25"/>
<text x="234" y="441.2" font-size="5.1" text-anchor="middle" fill="#3a3a3a">3</text>
<text x="267.5" y="441.2" font-size="5.1" text-anchor="middle" fill="#3a3a3a">1</text>
<text x="239.5" y="455" font-size="5.1" text-anchor="middle" fill="#414a6e" transform="rotate(90 239.5 455)">L-R</text>
<text x="273.25" y="456" font-size="5.1" text-anchor="middle" fill="#414a6e" transform="rotate(90 273.25 456)">BR-W</text>
<line x1="317.5" y1="364" x2="317.5" y2="394.5" stroke="#3a3a3a" stroke-width="1.25"/>
<text x="320.0" y="375" font-size="5.1" text-anchor="middle" fill="#414a6e" transform="rotate(90 320.0 375)">B-Y</text>
<text x="314" y="392.5" font-size="5.1" text-anchor="middle" fill="#3a3a3a">3</text>
<rect x="290.5" y="394.5" width="46.5" height="40.0" fill="#fff" stroke="#2e2e2e" stroke-width="1.35"/>
<polyline points="297.5,434.5 297.5,421.3 309,421.3 310.5,418.8 312.5,423.8 314.5,418.8 316.5,423.8 318.5,418.8 320.5,423.8 322.5,418.8 324,421.3 331,421.3 331,434.5" fill="none" stroke="#3a3a3a" stroke-width="1.1"/>
<line x1="317.5" y1="394.5" x2="317.5" y2="414" stroke="#3a3a3a" stroke-width="1.25"/>
<polygon points="317.5,419 315.4,414 319.6,414" fill="#1e1e1e"/>
<text x="294" y="441.2" font-size="5.1" text-anchor="middle" fill="#3a3a3a">1</text>
<text x="327.5" y="441.2" font-size="5.1" text-anchor="middle" fill="#3a3a3a">2</text>
<text x="300.0" y="454" font-size="5.1" text-anchor="middle" fill="#414a6e" transform="rotate(90 300.0 454)">L-R</text>
<text x="333.5" y="453" font-size="5.1" text-anchor="middle" fill="#414a6e" transform="rotate(90 333.5 453)">BR-W</text>
<line x1="331" y1="434.5" x2="331" y2="494.6" stroke="#3a3a3a" stroke-width="1.25"/>
<text x="351.4" y="392.3" font-size="5.1" text-anchor="start" fill="#3a3a3a" transform="rotate(90 351.4 392.3)">T 4</text>
<text x="345.7" y="392.3" font-size="5.1" text-anchor="start" fill="#3c4262" transform="rotate(90 345.7 392.3)">Throttle Position</text>
<text x="340" y="392.3" font-size="5.1" text-anchor="start" fill="#3c4262" transform="rotate(90 340 392.3)">Sensor</text>
<polyline points="330.6,494.6 330.6,581.3 416.5,581.3 416.5,554.5" fill="none" stroke="#3a3a3a" stroke-width="1.25"/>
<text x="333.1" y="507" font-size="5.1" text-anchor="middle" fill="#414a6e" transform="rotate(90 333.1 507)">BR-W</text>
<text x="324.3" y="507" font-size="5.1" text-anchor="middle" fill="#414a6e" transform="rotate(90 324.3 507)">(*3)</text>
<line x1="370.5" y1="364" x2="370.5" y2="408" stroke="#3a3a3a" stroke-width="1.25"/>
<text x="373.0" y="375" font-size="5.1" text-anchor="middle" fill="#414a6e" transform="rotate(90 373.0 375)">G-B</text>
<text x="367" y="405.5" font-size="5.1" text-anchor="middle" fill="#3a3a3a">2</text>
<rect x="360.5" y="408" width="20.0" height="33.75" fill="#fff" stroke="#2e2e2e" stroke-width="1.35"/>
<rect x="363.6" y="411.6" width="13.8" height="26.6" rx="6.9" fill="none" stroke="#3a3a3a" stroke-width="1"/>
<polyline points="370.5,408 370.5,416 373,417.5 368,420 373,422.5 368,425 373,427.5 368,430 370.5,431.5 370.5,441.75" fill="none" stroke="#3a3a3a" stroke-width="1.1"/>
<text x="367" y="447.8" font-size="5.1" text-anchor="middle" fill="#3a3a3a">1</text>
<text x="373.0" y="458" font-size="5.1" text-anchor="middle" fill="#414a6e" transform="rotate(90 373.0 458)">BR-W</text>
<text x="388.3" y="405.7" font-size="5.1" text-anchor="start" fill="#3a3a3a" transform="rotate(90 388.3 405.7)">E 2</text>
<text x="382.6" y="405.7" font-size="5.1" text-anchor="start" fill="#3c4262" transform="rotate(90 382.6 405.7)">EFI Water Temp. Sensor</text>
<rect x="403.75" y="374.2" width="26.55" height="19.8" fill="none" stroke="#3a3a3a" stroke-width="1.15" stroke-dasharray="2.4,1.2"/>
<rect x="403.75" y="427.8" width="26.55" height="20.2" fill="none" stroke="#3a3a3a" stroke-width="1.15" stroke-dasharray="2.4,1.2"/>
<polyline points="430.3,374.4 483.8,374.4 483.8,554.3 600,554.3" fill="none" stroke="#3a3a3a" stroke-width="1.15" stroke-dasharray="2.4,1.2"/>
<polyline points="430.3,428 463.6,428 463.6,481.6" fill="none" stroke="#3a3a3a" stroke-width="1.15" stroke-dasharray="2.4,1.2"/>
<circle cx="430.3" cy="374.6" r="1.6" fill="#1e1e1e"/>
<circle cx="430.3" cy="428.1" r="1.6" fill="#1e1e1e"/>
<text x="486.5" y="378" font-size="5.1" text-anchor="start" fill="#3c4262" transform="rotate(90 486.5 378)">(Shielded)</text>
<text x="466.2" y="435" font-size="5.1" text-anchor="start" fill="#3c4262" transform="rotate(90 466.2 435)">(Shielded)</text>
<line x1="416.5" y1="364" x2="416.5" y2="461" stroke="#3a3a3a" stroke-width="1.25"/>
<line x1="442.6" y1="364" x2="442.6" y2="461" stroke="#3a3a3a" stroke-width="1.25"/>
<text x="419.0" y="384" font-size="5.1" text-anchor="middle" fill="#414a6e" transform="rotate(90 419.0 384)">B</text>
<text x="410.2" y="384" font-size="5.1" text-anchor="middle" fill="#414a6e" transform="rotate(90 410.2 384)">(*3)</text>
<text x="445.1" y="384" font-size="5.1" text-anchor="middle" fill="#414a6e" transform="rotate(90 445.1 384)">L</text>
<text x="436.3" y="384" font-size="5.1" text-anchor="middle" fill="#414a6e" transform="rotate(90 436.3 384)">(*3)</text>
<rect x="409.5" y="403" width="15.5" height="7.2" fill="#fff" stroke="#2e2e2e" stroke-width="1.3"/>
<text x="417.25" y="408.40000000000003" font-size="5.1" text-anchor="middle" fill="#7a6450">EB5</text>
<text x="408.3" y="408.40000000000003" font-size="5.3" text-anchor="end" fill="#3a3a3a">3</text>
<rect x="436" y="403" width="15.2" height="7.2" fill="#fff" stroke="#2e2e2e" stroke-width="1.3"/>
<text x="443.6" y="408.40000000000003" font-size="5.1" text-anchor="middle" fill="#7a6450">EB6</text>
<text x="434.8" y="408.40000000000003" font-size="5.3" text-anchor="end" fill="#3a3a3a">1</text>
<polyline points="412.7,413.9 416.5,411.2 420.3,413.9" fill="none" stroke="#3a3a3a" stroke-width="1.3"/>
<polyline points="412.7,416.79999999999995 416.5,414.09999999999997 420.3,416.79999999999995" fill="none" stroke="#3a3a3a" stroke-width="1.3"/>
<polyline points="438.8,413.9 442.6,411.2 446.40000000000003,413.9" fill="none" stroke="#3a3a3a" stroke-width="1.3"/>
<polyline points="438.8,416.79999999999995 442.6,414.09999999999997 446.40000000000003,416.79999999999995" fill="none" stroke="#3a3a3a" stroke-width="1.3"/>
<text x="419.0" y="438" font-size="5.1" text-anchor="middle" fill="#414a6e" transform="rotate(90 419.0 438)">B</text>
<text x="410.2" y="438" font-size="5.1" text-anchor="middle" fill="#414a6e" transform="rotate(90 410.2 438)">(*3)</text>
<text x="445.1" y="438" font-size="5.1" text-anchor="middle" fill="#414a6e" transform="rotate(90 445.1 438)">L</text>
<text x="436.3" y="438" font-size="5.1" text-anchor="middle" fill="#414a6e" transform="rotate(90 436.3 438)">(*3)</text>
<text x="413" y="458.2" font-size="5.1" text-anchor="middle" fill="#3a3a3a">3</text>
<text x="439.5" y="458.2" font-size="5.1" text-anchor="middle" fill="#3a3a3a">1</text>
<rect x="410.5" y="461" width="40.0" height="27" fill="#fff" stroke="#2e2e2e" stroke-width="1.35"/>
<text x="412.4" y="468.6" font-size="5.3" text-anchor="start" fill="#3a3a3a">OX</text>
<text x="448.8" y="468.6" font-size="5.3" text-anchor="end" fill="#3a3a3a">HT</text>
<text x="412.4" y="486" font-size="5.3" text-anchor="start" fill="#3a3a3a">E1</text>
<text x="448.8" y="486" font-size="5.3" text-anchor="end" fill="#3a3a3a">+B</text>
<text x="403.8" y="458.7" font-size="5.1" text-anchor="start" fill="#3a3a3a" transform="rotate(90 403.8 458.7)">H02</text>
<text x="398.3" y="458.7" font-size="5.1" text-anchor="start" fill="#3c4262" transform="rotate(90 398.3 458.7)">Heated Oxygen</text>
<text x="392.3" y="458.7" font-size="5.1" text-anchor="start" fill="#3c4262" transform="rotate(90 392.3 458.7)">Sensor</text>
<line x1="416.5" y1="488" x2="416.5" y2="545.5" stroke="#3a3a3a" stroke-width="1.25"/>
<text x="413" y="494.8" font-size="5.1" text-anchor="middle" fill="#3a3a3a">4</text>
<text x="439.5" y="494.8" font-size="5.1" text-anchor="middle" fill="#3a3a3a">2</text>
<text x="419.0" y="505" font-size="5.1" text-anchor="middle" fill="#414a6e" transform="rotate(90 419.0 505)">BR-W</text>
<text x="410.2" y="505" font-size="5.1" text-anchor="middle" fill="#414a6e" transform="rotate(90 410.2 505)">(*3)</text>
<polyline points="412.7,541.5 416.5,544.2 420.3,541.5" fill="none" stroke="#3a3a3a" stroke-width="1.3"/>
<polyline points="412.7,538.6 416.5,541.3000000000001 420.3,538.6" fill="none" stroke="#3a3a3a" stroke-width="1.3"/>
<rect x="410" y="545.5" width="15" height="9.0" fill="#fff" stroke="#2e2e2e" stroke-width="1.3"/>
<text x="417.5" y="551.8" font-size="5.1" text-anchor="middle" fill="#7a6450">EB5</text>
<text x="408.8" y="551.8" font-size="5.3" text-anchor="end" fill="#3a3a3a">4</text>
<line x1="442.6" y1="488" x2="442.6" y2="545.5" stroke="#3a3a3a" stroke-width="1.25"/>
<text x="445.1" y="505" font-size="5.1" text-anchor="middle" fill="#414a6e" transform="rotate(90 445.1 505)">B-Y</text>
<text x="436.3" y="505" font-size="5.1" text-anchor="middle" fill="#414a6e" transform="rotate(90 436.3 505)">(*3)</text>
<polyline points="438.8,541.5 442.6,544.2 446.40000000000003,541.5" fill="none" stroke="#3a3a3a" stroke-width="1.3"/>
<polyline points="438.8,538.6 442.6,541.3000000000001 446.40000000000003,538.6" fill="none" stroke="#3a3a3a" stroke-width="1.3"/>
<rect x="436" y="545.5" width="15.2" height="9.0" fill="#fff" stroke="#2e2e2e" stroke-width="1.3"/>
<text x="443.6" y="551.8" font-size="5.1" text-anchor="middle" fill="#7a6450">EB6</text>
<text x="434.8" y="551.8" font-size="5.3" text-anchor="end" fill="#3a3a3a">2</text>
<line x1="442.6" y1="554.5" x2="442.6" y2="601.3" stroke="#3a3a3a" stroke-width="1.25"/>
<text x="445.1" y="575" font-size="5.1" text-anchor="middle" fill="#414a6e" transform="rotate(90 445.1 575)">B-Y</text>
<text x="436.3" y="575" font-size="5.1" text-anchor="middle" fill="#414a6e" transform="rotate(90 436.3 575)">(*3)</text>
<circle cx="442.6" cy="601.3" r="1.6" fill="#1e1e1e"/>
<line x1="463.6" y1="481.6" x2="463.6" y2="519.3" stroke="#3a3a3a" stroke-width="1.25"/>
<circle cx="463.6" cy="481.6" r="1.6" fill="#1e1e1e"/>
<text x="466.1" y="502" font-size="5.1" text-anchor="middle" fill="#414a6e" transform="rotate(90 466.1 502)">BR</text>
<text x="457.3" y="502" font-size="5.1" text-anchor="middle" fill="#414a6e" transform="rotate(90 457.3 502)">(*3)</text>
<polyline points="459.8,515.3 463.6,518.0 467.40000000000003,515.3" fill="none" stroke="#3a3a3a" stroke-width="1.3"/>
<polyline points="459.8,512.4 463.6,515.1 467.40000000000003,512.4" fill="none" stroke="#3a3a3a" stroke-width="1.3"/>
<rect x="455.5" y="519.3" width="16.5" height="8.7" fill="#fff" stroke="#2e2e2e" stroke-width="1.3"/>
<text x="463.75" y="525.4499999999999" font-size="5.1" text-anchor="middle" fill="#7a6450">EB1</text>
<text x="454.3" y="525.4499999999999" font-size="5.3" text-anchor="end" fill="#3a3a3a">0</text>
<polyline points="463.6,528 463.6,568 600,568" fill="none" stroke="#3a3a3a" stroke-width="1.25"/>
<text x="483" y="565.7" font-size="5.1" text-anchor="middle" fill="#414a6e">BR</text>
<text x="523" y="565.7" font-size="5.1" text-anchor="middle" fill="#414a6e">BR</text>
<text x="483" y="574.8" font-size="5.1" text-anchor="middle" fill="#414a6e">(*3)</text>
<circle cx="503.75" cy="568" r="1.6" fill="#1e1e1e"/>
<line x1="503.75" y1="364" x2="503.75" y2="594.5" stroke="#3a3a3a" stroke-width="1.25"/>
<text x="506.25" y="590" font-size="5.1" text-anchor="middle" fill="#414a6e" transform="rotate(90 506.25 590)">BR</text>
<text x="506.25" y="455" font-size="5.1" text-anchor="middle" fill="#414a6e" transform="rotate(90 506.25 455)">BR</text>
<polygon points="492.3,594.5 515.2,594.5 503.75,610.6" fill="#fff" stroke="#2e2e2e" stroke-width="1.3"/>
<text x="503.75" y="601.6" font-size="5.3" text-anchor="middle" fill="#3a3a3a">EC</text>
<line x1="503.75" y1="610.6" x2="503.75" y2="613.8" stroke="#3a3a3a" stroke-width="1.1"/>
<line x1="497" y1="613.8" x2="510.5" y2="613.8" stroke="#3a3a3a" stroke-width="1.15"/>
<line x1="499" y1="616.4" x2="508.5" y2="616.4" stroke="#3a3a3a" stroke-width="1.15"/>
<line x1="501" y1="619" x2="506.5" y2="619" stroke="#3a3a3a" stroke-width="1.15"/>
<text x="515.6" y="599.6" font-size="5.3" text-anchor="start" fill="#3a3a3a">Rear Bank of Left</text>
<text x="515.6" y="605.2" font-size="5.3" text-anchor="start" fill="#3a3a3a">Cylinder Head</text>
<polyline points="0,567.8 77.5,567.8 77.5,601.3 483.3,601.3 483.3,588 600,588" fill="none" stroke="#3a3a3a" stroke-width="1.25"/>
<text x="0" y="565.5" font-size="5.1" text-anchor="start" fill="#414a6e">B-Y</text>
<text x="52" y="565.5" font-size="5.1" text-anchor="start" fill="#414a6e">B-Y</text>
<text x="462.5" y="598.8" font-size="5.1" text-anchor="middle" fill="#414a6e">B-Y</text>
<polygon points="0,593.5 3,594 1,598" fill="#222"/>
<rect x="530.3" y="375.3" width="27.2" height="19.7" fill="none" stroke="#3a3a3a" stroke-width="1.15" stroke-dasharray="2.4,1.2"/>
<rect x="570" y="375.3" width="27.7" height="19.7" fill="none" stroke="#3a3a3a" stroke-width="1.15" stroke-dasharray="2.4,1.2"/>
<text x="598.3" y="372" font-size="5.1" text-anchor="start" fill="#b07a40" transform="rotate(90 598.3 372)">(Shielded)</text>
<circle cx="557.5" cy="395" r="1.6" fill="#1e1e1e"/>
<circle cx="570" cy="395" r="1.6" fill="#1e1e1e"/>
<line x1="557.5" y1="395" x2="557.5" y2="535" stroke="#3a3a3a" stroke-width="1.15" stroke-dasharray="2.4,1.2"/>
<line x1="570" y1="395" x2="570" y2="535" stroke="#3a3a3a" stroke-width="1.15" stroke-dasharray="2.4,1.2"/>
<text x="558.3" y="372" font-size="5.1" text-anchor="start" fill="#3c4262" transform="rotate(90 558.3 372)">(Shielded)</text>
<line x1="537" y1="364" x2="537" y2="461" stroke="#3a3a3a" stroke-width="1.25"/>
<line x1="583.3" y1="364" x2="583.3" y2="461" stroke="#3a3a3a" stroke-width="1.25"/>
<text x="539.5" y="384" font-size="5.1" text-anchor="middle" fill="#414a6e" transform="rotate(90 539.5 384)">B</text>
<text x="539.5" y="440" font-size="5.1" text-anchor="middle" fill="#414a6e" transform="rotate(90 539.5 440)">B</text>
<text x="585.8" y="384" font-size="5.1" text-anchor="middle" fill="#414a6e" transform="rotate(90 585.8 384)">W</text>
<text x="585.8" y="440" font-size="5.1" text-anchor="middle" fill="#414a6e" transform="rotate(90 585.8 440)">W</text>
<text x="533.4" y="458.2" font-size="5.1" text-anchor="middle" fill="#3a3a3a">1</text>
<rect x="530.2" y="461" width="13.6" height="27.3" fill="#fff" stroke="#2e2e2e" stroke-width="1.35"/>
<line x1="537" y1="461" x2="537" y2="469" stroke="#3a3a3a" stroke-width="1"/>
<line x1="537" y1="480.5" x2="537" y2="488.3" stroke="#3a3a3a" stroke-width="1"/>
<line x1="532.7" y1="469.3" x2="541.3" y2="469.3" stroke="#3a3a3a" stroke-width="1.2"/>
<line x1="532.7" y1="480.2" x2="541.3" y2="480.2" stroke="#3a3a3a" stroke-width="1.2"/>
<rect x="533.4" y="472.3" width="7.2" height="4.9" fill="#fff" stroke="#3a3a3a" stroke-width="1.1"/>
<line x1="537" y1="488.3" x2="537" y2="494" stroke="#3a3a3a" stroke-width="1.1"/>
<line x1="531" y1="494" x2="543" y2="494" stroke="#3a3a3a" stroke-width="1.15"/>
<line x1="532.8" y1="496.7" x2="541.2" y2="496.7" stroke="#3a3a3a" stroke-width="1.15"/>
<line x1="534.4" y1="499" x2="539.6" y2="499" stroke="#3a3a3a" stroke-width="1.15"/>
<line x1="536" y1="501" x2="538" y2="501" stroke="#3a3a3a" stroke-width="1.1"/>
<text x="579.6999999999999" y="458.2" font-size="5.1" text-anchor="middle" fill="#3a3a3a">1</text>
<rect x="576.5" y="461" width="13.6" height="27.3" fill="#fff" stroke="#2e2e2e" stroke-width="1.35"/>
<line x1="583.3" y1="461" x2="583.3" y2="469" stroke="#3a3a3a" stroke-width="1"/>
<line x1="583.3" y1="480.5" x2="583.3" y2="488.3" stroke="#3a3a3a" stroke-width="1"/>
<line x1="579.0" y1="469.3" x2="587.5999999999999" y2="469.3" stroke="#3a3a3a" stroke-width="1.2"/>
<line x1="579.0" y1="480.2" x2="587.5999999999999" y2="480.2" stroke="#3a3a3a" stroke-width="1.2"/>
<rect x="579.6999999999999" y="472.3" width="7.2" height="4.9" fill="#fff" stroke="#3a3a3a" stroke-width="1.1"/>
<line x1="583.3" y1="488.3" x2="583.3" y2="494" stroke="#3a3a3a" stroke-width="1.1"/>
<line x1="577.3" y1="494" x2="589.3" y2="494" stroke="#3a3a3a" stroke-width="1.15"/>
<line x1="579.0999999999999" y1="496.7" x2="587.5" y2="496.7" stroke="#3a3a3a" stroke-width="1.15"/>
<line x1="580.6999999999999" y1="499" x2="585.9" y2="499" stroke="#3a3a3a" stroke-width="1.15"/>
<line x1="582.3" y1="501" x2="584.3" y2="501" stroke="#3a3a3a" stroke-width="1.1"/>
<text x="523.8" y="458.9" font-size="5.1" text-anchor="start" fill="#3a3a3a" transform="rotate(90 523.8 458.9)">K 1</text>
<text x="518.3" y="458.9" font-size="5.1" text-anchor="start" fill="#3c4262" transform="rotate(90 518.3 458.9)">Knock Sensor</text>
<text x="512.2" y="458.9" font-size="5.1" text-anchor="start" fill="#3c4262" transform="rotate(90 512.2 458.9)">(Bank 1)</text>
<text x="593" y="458.3" font-size="5.1" text-anchor="start" fill="#3c4262" transform="rotate(90 593 458.3)">(Bank 2)</text>
<text x="598.3" y="458.3" font-size="5.1" text-anchor="start" fill="#b07a40" transform="rotate(90 598.3 458.3)">Knock Sensor</text>
<rect x="550.5" y="528" width="69.5" height="13.3" fill="none" stroke="#2e2e2e" stroke-width="1.35"/>
<polyline points="557.5,534.9 610,534.9" fill="none" stroke="#3a3a3a" stroke-width="1.15"/>
<circle cx="570" cy="534.9" r="1.6" fill="#1e1e1e"/>
<text x="553" y="525.5" font-size="5.1" text-anchor="middle" fill="#777">E</text>
<text x="566" y="525.5" font-size="5.1" text-anchor="middle" fill="#777">E</text>
<text x="594.5" y="521" font-size="5.1" text-anchor="start" fill="#414a6e">J 4</text>
<text x="594.5" y="526.5" font-size="5.1" text-anchor="start" fill="#414a6e">Ju</text>
<circle cx="11" cy="359.8" r="4.4" fill="#fff" stroke="#2e2e2e" stroke-width="1.35"/>
<text x="11" y="361.7" font-size="5.3" text-anchor="middle" fill="#555">B</text>
<text x="5.699999999999999" y="361.7" font-size="5.3" text-anchor="end" fill="#3a3a3a">13</text>
<text x="11" y="351.6" font-size="5.3" text-anchor="middle" fill="#3a3a3a">E01</text>
<circle cx="57.3" cy="359.8" r="4.4" fill="#fff" stroke="#2e2e2e" stroke-width="1.35"/>
<text x="57.3" y="361.7" font-size="5.3" text-anchor="middle" fill="#555">A</text>
<text x="52.0" y="361.7" font-size="5.3" text-anchor="end" fill="#3a3a3a">3</text>
<text x="57.3" y="351.6" font-size="5.3" text-anchor="middle" fill="#3a3a3a">THA</text>
<circle cx="150.9" cy="359.8" r="4.4" fill="#fff" stroke="#2e2e2e" stroke-width="1.35"/>
<text x="150.9" y="361.7" font-size="5.3" text-anchor="middle" fill="#555">A</text>
<text x="145.6" y="361.7" font-size="5.3" text-anchor="end" fill="#3a3a3a">7</text>
<text x="150.9" y="351.6" font-size="5.3" text-anchor="middle" fill="#3a3a3a">VAF</text>
<circle cx="177.3" cy="359.8" r="4.4" fill="#fff" stroke="#2e2e2e" stroke-width="1.35"/>
<text x="177.3" y="361.7" font-size="5.3" text-anchor="middle" fill="#555">A</text>
<text x="172.0" y="361.7" font-size="5.3" text-anchor="end" fill="#3a3a3a">1</text>
<text x="177.3" y="351.6" font-size="5.3" text-anchor="middle" fill="#3a3a3a">VC</text>
<circle cx="204" cy="359.8" r="4.4" fill="#fff" stroke="#2e2e2e" stroke-width="1.35"/>
<text x="204" y="361.7" font-size="5.3" text-anchor="middle" fill="#555">A</text>
<text x="198.7" y="361.7" font-size="5.3" text-anchor="end" fill="#3a3a3a">5</text>
<text x="204" y="351.6" font-size="5.3" text-anchor="middle" fill="#3a3a3a">E2</text>
<circle cx="257.5" cy="359.8" r="4.4" fill="#fff" stroke="#2e2e2e" stroke-width="1.35"/>
<text x="257.5" y="361.7" font-size="5.3" text-anchor="middle" fill="#555">A</text>
<text x="252.2" y="361.7" font-size="5.3" text-anchor="end" fill="#3a3a3a">2</text>
<text x="257.5" y="351.6" font-size="5.3" text-anchor="middle" fill="#3a3a3a">PIM</text>
<circle cx="317.5" cy="359.8" r="4.4" fill="#fff" stroke="#2e2e2e" stroke-width="1.35"/>
<text x="317.5" y="361.7" font-size="5.3" text-anchor="middle" fill="#555">A</text>
<text x="312.20000000000005" y="361.7" font-size="5.3" text-anchor="end" fill="#3a3a3a">11</text>
<text x="317.5" y="351.6" font-size="5.3" text-anchor="middle" fill="#3a3a3a">VTA</text>
<circle cx="370.5" cy="359.8" r="4.4" fill="#fff" stroke="#2e2e2e" stroke-width="1.35"/>
<text x="370.5" y="361.7" font-size="5.3" text-anchor="middle" fill="#555">A</text>
<text x="365.20000000000005" y="361.7" font-size="5.3" text-anchor="end" fill="#3a3a3a">4</text>
<text x="370.5" y="351.6" font-size="5.3" text-anchor="middle" fill="#3a3a3a">THW</text>
<circle cx="416.5" cy="359.8" r="4.4" fill="#fff" stroke="#2e2e2e" stroke-width="1.35"/>
<text x="416.5" y="361.7" font-size="5.3" text-anchor="middle" fill="#555">A</text>
<text x="411.20000000000005" y="361.7" font-size="5.3" text-anchor="end" fill="#3a3a3a">6</text>
<text x="416.5" y="351.6" font-size="5.3" text-anchor="middle" fill="#3a3a3a">OX</text>
<circle cx="442.6" cy="359.8" r="4.4" fill="#fff" stroke="#2e2e2e" stroke-width="1.35"/>
<text x="442.6" y="361.7" font-size="5.3" text-anchor="middle" fill="#555">B</text>
<text x="437.30000000000007" y="361.7" font-size="5.3" text-anchor="end" fill="#3a3a3a">1</text>
<text x="442.6" y="351.6" font-size="5.3" text-anchor="middle" fill="#3a3a3a">HT</text>
<circle cx="503.75" cy="359.8" r="4.4" fill="#fff" stroke="#2e2e2e" stroke-width="1.35"/>
<text x="503.75" y="361.7" font-size="5.3" text-anchor="middle" fill="#555">B</text>
<text x="498.45000000000005" y="361.7" font-size="5.3" text-anchor="end" fill="#3a3a3a">14</text>
<text x="503.75" y="351.6" font-size="5.3" text-anchor="middle" fill="#3a3a3a">E1</text>
<circle cx="537" cy="359.8" r="4.4" fill="#fff" stroke="#2e2e2e" stroke-width="1.35"/>
<text x="537" y="361.7" font-size="5.3" text-anchor="middle" fill="#555">A</text>
<text x="531.7" y="361.7" font-size="5.3" text-anchor="end" fill="#3a3a3a">5</text>
<text x="537" y="351.6" font-size="5.3" text-anchor="middle" fill="#3a3a3a">KNK1</text>
<circle cx="583.3" cy="359.8" r="4.4" fill="#fff" stroke="#2e2e2e" stroke-width="1.35"/>
<text x="583.3" y="361.7" font-size="5.3" text-anchor="middle" fill="#555">A</text>
<text x="578.0" y="361.7" font-size="5.3" text-anchor="end" fill="#3a3a3a">13</text>
<text x="583.3" y="351.6" font-size="5.3" text-anchor="middle" fill="#3a3a3a">KNK2</text>
<text x="0" y="0" dx="0 2.2 2.2 2.2" font-size="29.5" letter-spacing="0.55" fill="#7474b8" style="mix-blend-mode:multiply" transform="translate(95.4 401.4) rotate(-18)">www.digitalservicemanuals.com</text>
</svg>
<div id="tb">
 <div style="position:absolute;left:43px;top:7px;width:17.5px;height:15px;background:#1f1f1f;"></div>
 <div class="tbt" style="left:49px;top:7px;">1</div>
 <div class="tbt" style="left:64px;top:7px;color:#cfcfcf;">/ &nbsp;1</div>
 <div style="position:absolute;left:99px;top:6px;width:1px;height:17px;background:#5a5a5a;"></div>
 <div style="position:absolute;left:111px;top:13.5px;width:8px;height:1.6px;background:#e0e0e0;"></div>
 <div style="position:absolute;left:131px;top:7px;width:34px;height:15px;background:#1f1f1f;"></div>
 <div class="tbt" style="left:138px;top:7px;">75%</div>
 <div style="position:absolute;left:176.5px;top:13.7px;width:8.5px;height:1.6px;background:#e0e0e0;"></div>
 <div style="position:absolute;left:180px;top:10.2px;width:1.6px;height:8.5px;background:#e0e0e0;"></div>
 <div style="position:absolute;left:197px;top:6px;width:1px;height:17px;background:#5a5a5a;"></div>
 <svg style="position:absolute;left:0;top:0" width="380" height="35">
  <rect x="215.5" y="8" width="8.5" height="12" fill="none" stroke="#e6e6e6" stroke-width="1.2"/>
  <path d="M218 12 l1.7 -1.8 l1.7 1.8 M218 16 l1.7 1.8 l1.7 -1.8" fill="none" stroke="#e6e6e6" stroke-width="0.9"/>
  <path d="M238 15 l4 -4 l4 4 l-4 4 z" fill="none" stroke="#e6e6e6" stroke-width="1.2"/>
  <path d="M244 10 a5 5 0 1 1 1 9.5" fill="none" stroke="#e6e6e6" stroke-width="1.2"/>
  <path d="M242.5 8 l2 2 l-2 2" fill="none" stroke="#e6e6e6" stroke-width="1.1"/>
  <rect x="266.5" y="6" width="1" height="17" fill="#5a5a5a"/>
  <path d="M280 12 q2 -4 4 -1 q1 2 -2 5 q-2 3 1 3 q2 0 3 -3 q1 -2 3 -1 q1 2 -1 4" fill="none" stroke="#e6e6e6" stroke-width="1.3"/>
  <rect x="302" y="6" width="1" height="17" fill="#5a5a5a"/>
  <path d="M317 12 h5 a3 3 0 0 1 0 6 h-4 M319 10 l-2 2 l2 2" fill="none" stroke="#8a8a8a" stroke-width="1.2"/>
  <path d="M350 12 h-5 a3 3 0 0 0 0 6 h4 M348 10 l2 2 l-2 2" fill="none" stroke="#8a8a8a" stroke-width="1.2"/>
 </svg>
</div>
<div id="tbb"></div>
<div id="bot"></div>
</body></html>
